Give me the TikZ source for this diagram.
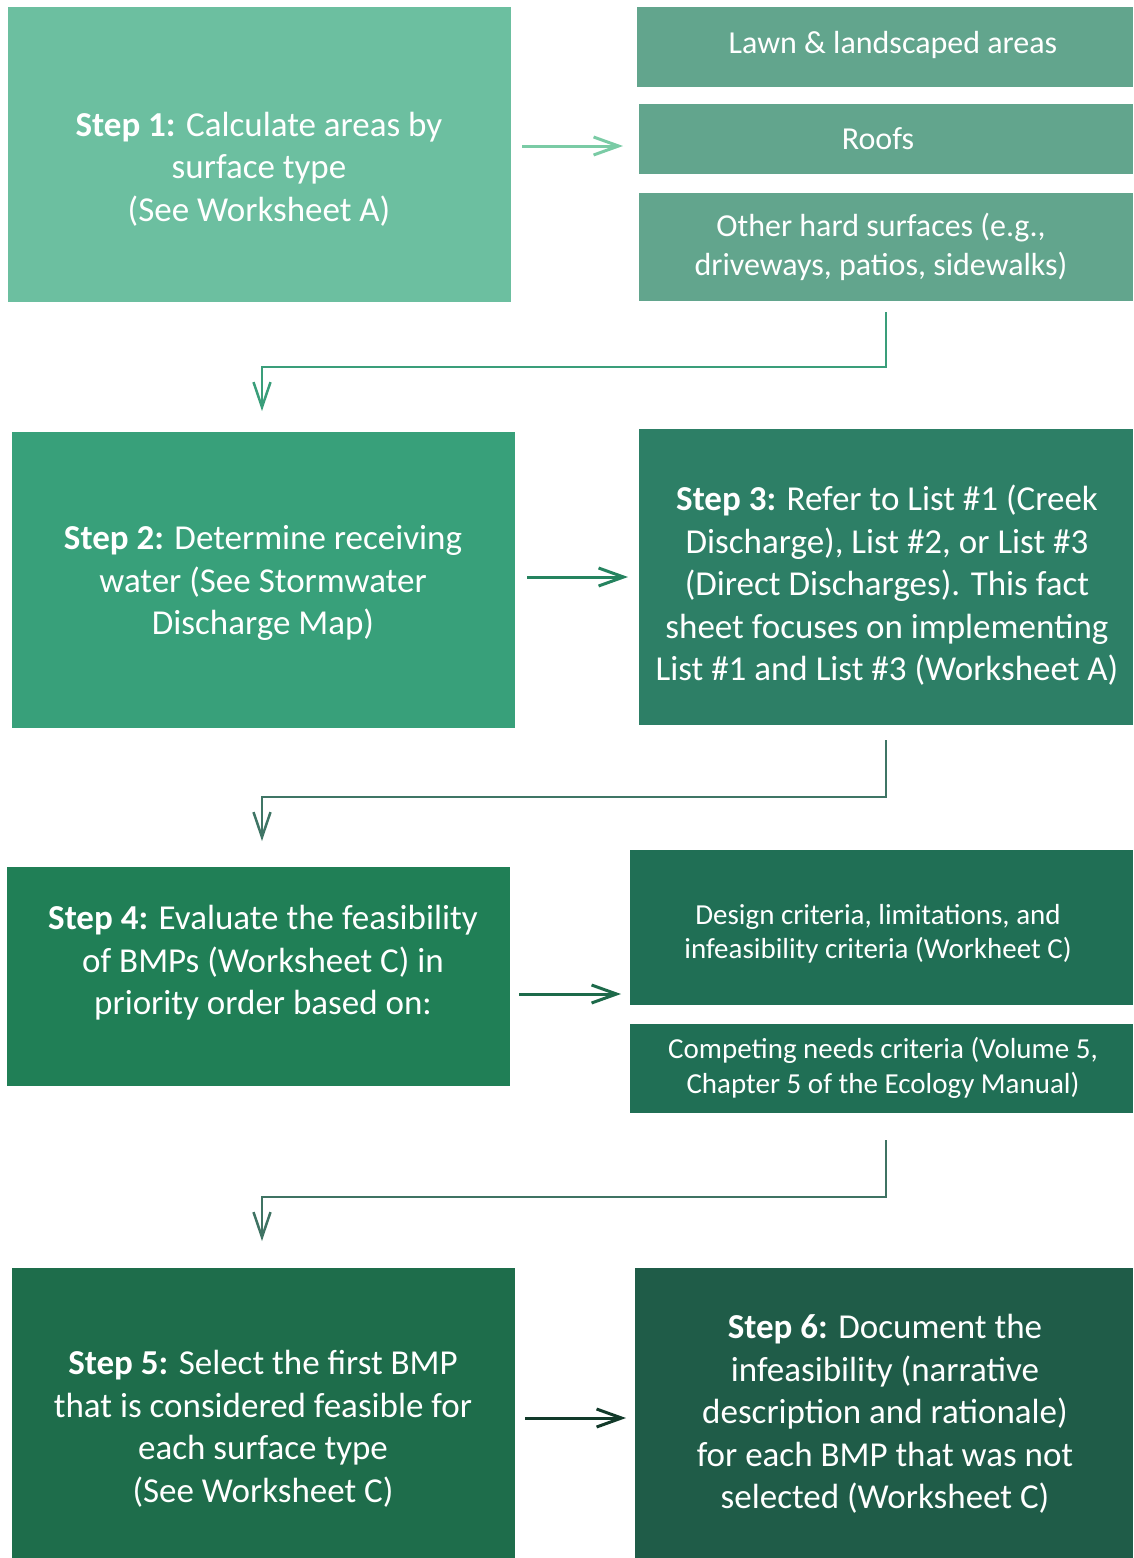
\documentclass[tikz,border=0pt]{standalone}
\usepackage{fontspec}
\setmainfont{Carlito}
\usetikzlibrary{arrows.meta}
\definecolor{cS1}{RGB}{108,191,160}
\definecolor{cSide}{RGB}{98,165,141}
\definecolor{cA1}{RGB}{122,203,165}
\definecolor{cC1}{RGB}{58,158,122}
\definecolor{cS2}{RGB}{56,160,122}
\definecolor{cA2}{RGB}{37,131,95}
\definecolor{cS3}{RGB}{45,127,102}
\definecolor{cC2}{RGB}{63,117,101}
\definecolor{cS4}{RGB}{32,127,86}
\definecolor{cA3}{RGB}{29,106,74}
\definecolor{cSide2}{RGB}{32,111,85}
\definecolor{cC3}{RGB}{63,115,99}
\definecolor{cS5}{RGB}{30,109,75}
\definecolor{cA4}{RGB}{18,58,42}
\definecolor{cS6}{RGB}{31,92,72}
\tikzset{
  box/.style={rectangle, inner sep=0pt, outer sep=0pt, draw=none},
  bigtext/.style={text=white, align=center, inner sep=0pt, font=\fontsize{35}{42.5}\selectfont},
  midtext/.style={text=white, align=center, inner sep=0pt, font=\fontsize{32}{39}\selectfont},
  smalltext/.style={text=white, align=center, inner sep=0pt, font=\fontsize{29}{34.5}\selectfont},
  flowarrow/.style={line width=3pt, -{Straight Barb[length=25pt,width=18pt,line width=3pt]}},
  elbow/.style={line width=2.5pt, -{Straight Barb[length=25pt,width=17pt,line width=2.5pt]}}
}
\begin{document}
\begin{tikzpicture}[x=1pt,y=-1pt]
\path[use as bounding box] (0,0) rectangle (1133,1558);
% boxes
\node[box, fill=cS1, minimum width=503pt, minimum height=295pt] (s1) at (259.5,154.5) {};
\node[box, fill=cSide, minimum width=496pt, minimum height=80pt] (lawn) at (885,47) {};
\node[box, fill=cSide, minimum width=494pt, minimum height=70pt] (roofs) at (886,139) {};
\node[box, fill=cSide, minimum width=494pt, minimum height=108pt] (other) at (886,247) {};
\node[box, fill=cS2, minimum width=503pt, minimum height=296pt] (s2) at (263.5,580) {};
\node[box, fill=cS3, minimum width=494pt, minimum height=296pt] (s3) at (886,577) {};
\node[box, fill=cS4, minimum width=503pt, minimum height=219pt] (s4) at (258.5,976.5) {};
\node[box, fill=cSide2, minimum width=503pt, minimum height=155pt] (design) at (881.5,927.5) {};
\node[box, fill=cSide2, minimum width=503pt, minimum height=89pt] (comp) at (881.5,1068.5) {};
\node[box, fill=cS5, minimum width=503pt, minimum height=290pt] (s5) at (263.5,1413) {};
\node[box, fill=cS6, minimum width=498pt, minimum height=290pt] (s6) at (884,1413) {};
% texts
\node[bigtext] (t1) at (259,169) {\textbf{Step 1:} Calculate areas by\\surface type\\(See Worksheet A)};
\node[midtext] (tlawn) at (893,45) {Lawn \& landscaped areas};
\node[midtext] (troofs) at (878,139) {Roofs};
\node[midtext] (tother) at (881,247) {Other hard surfaces (e.g.,\\driveways, patios, sidewalks)};
\node[bigtext] (t2) at (263,583) {\textbf{Step 2:} Determine receiving\\water (See Stormwater\\Discharge Map)};
\node[bigtext] (t3) at (887,585.5) {\textbf{Step 3:} Refer to List \#1 (Creek\\Discharge), List \#2, or List \#3\\(Direct Discharges). This fact\\sheet focuses on implementing\\List \#1 and List \#3 (Worksheet A)};
\node[bigtext] (t4) at (263,963) {\textbf{Step 4:} Evaluate the feasibility\\of BMPs (Worksheet C) in\\priority order based on:};
\node[smalltext] (tdesign) at (878,934) {Design criteria, limitations, and\\infeasibility criteria (Workheet C)};
\node[smalltext] (tcomp) at (883,1068) {Competing needs criteria (Volume 5,\\Chapter 5 of the Ecology Manual)};
\node[bigtext] (t5) at (263,1429) {\textbf{Step 5:} Select the first BMP\\that is considered feasible for\\each surface type\\(See Worksheet C)};
\node[bigtext] (t6) at (885,1414) {\textbf{Step 6:} Document the\\infeasibility (narrative\\description and rationale)\\for each BMP that was not\\selected (Worksheet C)};
% arrow end points
\coordinate (a1s) at (522,146);
\coordinate (a1e) at (623,146);
\coordinate (a2s) at (527,577);
\coordinate (a2e) at (628,577);
\coordinate (a3s) at (519,994);
\coordinate (a3e) at (621,994);
\coordinate (a4s) at (525,1418);
\coordinate (a4e) at (626,1418);
% horizontal arrows
\draw[flowarrow, cA1] (a1s) -- (a1e);
\draw[flowarrow, cA2] (a2s) -- (a2e);
\draw[flowarrow, cA3] (a3s) -- (a3e);
\draw[flowarrow, cA4] (a4s) -- (a4e);
% elbow connectors
\draw[elbow, cC1] ([yshift=-11pt]other.south) -- ++(0,55) -| ([xshift=-1.5pt,yshift=21pt]s2.north);
\draw[elbow, cC2] ([yshift=-15pt]s3.south) -- ++(0,57) -| ([xshift=3.5pt,yshift=26pt]s4.north);
\draw[elbow, cC3] ([xshift=4.5pt,yshift=-27pt]comp.south) -- ++(0,57) -| ([xshift=-1.5pt,yshift=27pt]s5.north);
\end{tikzpicture}
\end{document}
